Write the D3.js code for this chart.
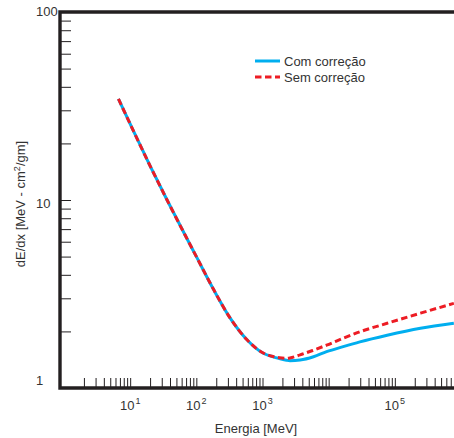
<!DOCTYPE html>
<html>
<head>
<meta charset="utf-8">
<script src="https://cdn.jsdelivr.net/npm/d3@7"></script>
<style>
  html, body { margin: 0; padding: 0; background: #fff; }
  svg { display: block; font-family: "Liberation Sans", Arial, sans-serif; }
</style>
</head>
<body>
<svg id="chart"></svg>
<script>
// energy in MeV, stopping power in MeV cm2/gm
const energyMeV = [6.65, 11.2, 20, 35.8, 67.6, 101.6, 180.7, 323, 578, 1028, 1450, 1800, 2300, 2600, 3700, 5900, 9300, 16600, 29600, 76600, 244000, 780000];
const comCorrecao = [34.5, 23.3, 15.2, 10.06, 6.51, 4.95, 3.36, 2.36, 1.81, 1.53, 1.465, 1.435, 1.405, 1.397, 1.409, 1.467, 1.56, 1.66, 1.76, 1.91, 2.08, 2.21];
const semCorrecao = [34.5, 23.3, 15.2, 10.06, 6.51, 4.95, 3.36, 2.36, 1.81, 1.535, 1.47, 1.45, 1.44, 1.445, 1.5, 1.59, 1.69, 1.84, 1.99, 2.21, 2.5, 2.82];

const seriesNames = ['Com correção', 'Sem correção'];
const xLabelDecades = [1, 2, 3, 5];
const yLabels = [1, 10, 100];

const width = 454, height = 438;
const ink = '#231f20';

const svg = d3.select('#chart')
  .attr('width', width)
  .attr('height', height)
  .attr('viewBox', [0, 0, width, height]);

const x = d3.scaleLog().domain([1, 1e6]).range([64, 461]);
const y = d3.scaleLog().domain([1, 100]).range([388, 12]);

const frameLeft = 60;

// minor + major ticks, x from 2 upward, y between frame lines
const xTicks = [];
for (let d = 0; d < 6; d++) {
  for (let k = 1; k < 10; k++) {
    const v = k * Math.pow(10, d);
    if (v >= 2) xTicks.push(v);
  }
}
const yTicks = [];
for (let d = 0; d < 2; d++) {
  for (let k = 1; k < 10; k++) {
    const v = k * Math.pow(10, d);
    if (v > 1) yTicks.push(v);
  }
}

svg.append('g')
  .attr('transform', `translate(0,${y(1)})`)
  .call(d3.axisBottom(x).tickValues(xTicks).tickSize(-10).tickFormat(''))
  .call(g => g.select('.domain').remove())
  .call(g => g.selectAll('line').attr('stroke', ink));

svg.append('g')
  .attr('transform', `translate(${frameLeft},0)`)
  .call(d3.axisRight(y).tickValues(yTicks).tickSize(11).tickFormat(''))
  .call(g => g.select('.domain').remove())
  .call(g => g.selectAll('line').attr('stroke', ink));

// frame: left, top, bottom
svg.append('path')
  .attr('d', `M${x(1e6) + 10},${y(100)}H${frameLeft}V${y(1)}H${x(1e6) + 10}`)
  .attr('fill', 'none')
  .attr('stroke', ink)
  .attr('stroke-width', 3.4);

// x tick labels 10^n
const xl = svg.append('g')
  .attr('font-size', 13)
  .attr('fill', '#333')
  .attr('text-anchor', 'middle');
xLabelDecades.forEach(n => {
  const t = xl.append('text')
    .attr('x', x(Math.pow(10, n)))
    .attr('y', 410);
  t.append('tspan').text('10');
  t.append('tspan').attr('font-size', 9).attr('dy', -6.5).attr('dx', 1).text(n);
});

// y tick labels
const yOffset = {1: -3, 10: 7.5, 100: 3.5};
svg.append('g')
  .attr('font-size', 13)
  .attr('fill', '#333')
  .selectAll('text')
  .data(yLabels)
  .join('text')
  .attr('x', 36)
  .attr('y', d => y(d) + yOffset[d])
  .text(d => d);

// axis titles
svg.append('text')
  .attr('x', 256)
  .attr('y', 433)
  .attr('text-anchor', 'middle')
  .attr('font-size', 13)
  .attr('fill', '#333')
  .text('Energia [MeV]');

const yt = svg.append('text')
  .attr('transform', 'translate(25,204) rotate(-90)')
  .attr('text-anchor', 'middle')
  .attr('font-size', 13)
  .attr('fill', '#333');
yt.append('tspan').text('dE/dx [MeV - cm');
yt.append('tspan').attr('font-size', 9).attr('dy', -5).text('2');
yt.append('tspan').attr('dy', 5).text('/gm]');

// curves
const line = vals => d3.line()
  .x((d, i) => x(energyMeV[i]))
  .y(d => y(d))
  .curve(d3.curveMonotoneX)(vals);

svg.append('path')
  .attr('d', line(comCorrecao))
  .attr('fill', 'none')
  .attr('stroke', '#00aeef')
  .attr('stroke-width', 3);

svg.append('path')
  .attr('d', line(semCorrecao))
  .attr('fill', 'none')
  .attr('stroke', '#ed1c24')
  .attr('stroke-width', 3)
  .attr('stroke-dasharray', '6.5,3.5');

// legend
const legend = svg.append('g').attr('transform', 'translate(255,61)');
const styles = [
  {stroke: '#00aeef', dash: null},
  {stroke: '#ed1c24', dash: '6.5,3.5'}
];
seriesNames.forEach((name, i) => {
  const row = legend.append('g').attr('transform', `translate(0,${i * 16})`);
  row.append('line')
    .attr('x1', 0).attr('x2', 25)
    .attr('stroke', styles[i].stroke)
    .attr('stroke-width', 3)
    .attr('stroke-dasharray', styles[i].dash);
  row.append('text')
    .attr('x', 29)
    .attr('y', 4.5)
    .attr('font-size', 13)
    .attr('fill', '#333')
    .text(name);
});
</script>
</body>
</html>
